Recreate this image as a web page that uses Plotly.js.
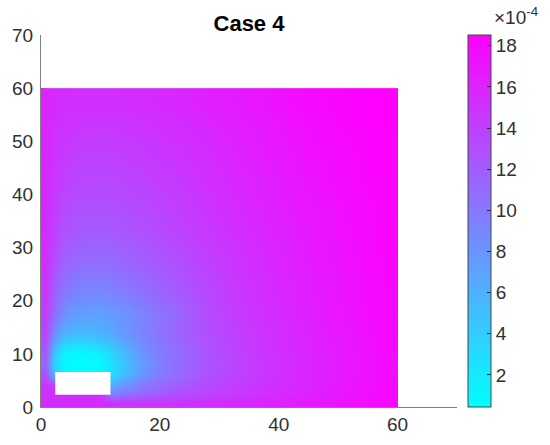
<!DOCTYPE html>
<html>
<head>
<meta charset="utf-8">
<script src="https://cdn.plot.ly/plotly-3.0.1.min.js"></script>
<style>
  html, body { margin: 0; padding: 0; background: #fff; }
  #plot { width: 550px; height: 445px; }
</style>
</head>
<body>
<div id="plot"></div>
<script>
// Case 4 field. Values are in units of 1e-4.
// cell edges (x and y), one more than the number of columns / rows
var xBins = [0, 1.5, 3, 5, 7, 9, 11, 13, 16, 20, 25, 30, 35, 40, 45, 50, 55, 60];
var yBins = [0, 1.5, 3, 5, 7, 9, 11, 13, 16, 20, 25, 30, 35, 40, 45, 50, 55, 60];

// rows go from bottom (y ~ 0.75) to top (y ~ 57.5)
var zE4 = [
  [15.5, 15.5, 15.5, 15.5, 15.5, 15.5, 15.3, 14.8, 14.8, 15.0, 15.3, 15.7, 16.1, 16.5, 17.0, 17.5, 18.0],
  [15.2, 15.0, 15.2, 15.2, 15.2, 15.2, 10.0, 11.0, 12.0, 13.0, 13.8, 14.5, 15.2, 15.8, 16.5, 17.2, 17.8],
  [14.8, 14.5, 12.0, 10.0, 10.0, 10.0, 6.5, 8.2, 10.3, 11.9, 13.2, 14.2, 15.0, 15.7, 16.4, 17.1, 17.8],
  [13.0, 5.5, 1.5, 1.0, 1.0, 1.5, 3.0, 5.5, 8.7, 10.9, 12.6, 13.8, 14.8, 15.6, 16.3, 17.0, 17.7],
  [11.5, 3.5, 0.8, 0.5, 0.5, 0.8, 2.5, 5.0, 8.2, 10.6, 12.4, 13.7, 14.7, 15.5, 16.3, 17.0, 17.7],
  [12.0, 4.5, 1.2, 0.8, 1.0, 1.6, 3.3, 5.6, 8.5, 10.7, 12.5, 13.8, 14.8, 15.6, 16.3, 17.0, 17.7],
  [12.8, 6.5, 3.5, 3.0, 3.2, 4.0, 5.0, 6.7, 9.0, 10.9, 12.6, 13.9, 14.9, 15.7, 16.4, 17.1, 17.8],
  [13.5, 8.8, 6.2, 5.6, 5.6, 6.0, 6.7, 8.0, 9.7, 11.3, 12.9, 14.0, 15.0, 15.8, 16.5, 17.2, 17.8],
  [14.2, 10.8, 8.3, 7.5, 7.2, 7.2, 7.5, 8.2, 9.5, 11.0, 13.0, 14.3, 15.2, 16.0, 16.7, 17.3, 17.9],
  [14.8, 12.0, 10.2, 9.4, 9.2, 9.2, 9.5, 10.0, 11.0, 12.2, 13.4, 14.5, 15.4, 16.1, 16.8, 17.4, 18.0],
  [15.2, 13.0, 11.6, 11.0, 10.8, 10.8, 11.0, 11.3, 12.0, 12.9, 13.9, 14.8, 15.6, 16.3, 16.9, 17.5, 18.1],
  [15.5, 13.8, 12.6, 12.2, 12.0, 12.0, 12.1, 12.4, 12.9, 13.6, 14.4, 15.2, 15.9, 16.5, 17.1, 17.6, 18.2],
  [15.6, 14.2, 13.3, 12.9, 12.8, 12.8, 12.9, 13.1, 13.5, 14.1, 14.8, 15.5, 16.1, 16.7, 17.2, 17.7, 18.2],
  [15.7, 14.6, 13.9, 13.6, 13.5, 13.5, 13.5, 13.7, 14.0, 14.5, 15.1, 15.7, 16.3, 16.9, 17.4, 17.9, 18.3],
  [15.8, 15.0, 14.4, 14.1, 14.0, 14.0, 14.0, 14.2, 14.5, 14.9, 15.4, 16.0, 16.6, 17.1, 17.6, 18.0, 18.4],
  [15.9, 15.3, 14.9, 14.7, 14.6, 14.6, 14.6, 14.7, 15.0, 15.3, 15.8, 16.3, 16.8, 17.3, 17.8, 18.2, 18.5],
  [16.0, 15.6, 15.3, 15.2, 15.2, 15.2, 15.2, 15.3, 15.5, 15.8, 16.2, 16.6, 17.1, 17.6, 18.0, 18.3, 18.5]
];

// the empty block in the lower left
var holeX = [2.4, 11.7];
var holeY = [2.3, 6.6];

var cRange = [0.44, 18.52];
var cbTicks = [2, 4, 6, 8, 10, 12, 14, 16, 18];
var xTicks = [0, 20, 40, 60];
var yTicks = [0, 10, 20, 30, 40, 50, 60, 70];

var fnt = 'Liberation Sans, Arial, Helvetica, sans-serif';
var txtCol = '#303030';

var trace = {
  type: 'heatmap',
  x: xBins,
  y: yBins,
  z: zE4,
  zsmooth: 'best',
  zmin: cRange[0],
  zmax: cRange[1],
  colorscale: [[0, 'rgb(0,255,255)'], [1, 'rgb(255,0,255)']],
  hoverinfo: 'skip',
  colorbar: {
    x: 1.026,
    xanchor: 'left',
    y: 0.5,
    yanchor: 'middle',
    len: 1,
    lenmode: 'fraction',
    thickness: 23,
    xpad: 0,
    ypad: 0,
    outlinewidth: 1,
    outlinecolor: '#3a4a4a',
    tickmode: 'array',
    tickvals: cbTicks,
    ticks: 'inside',
    ticklen: 4,
    tickcolor: '#262626',
    tickfont: { family: fnt, size: 19, color: txtCol }
  }
};

var axisCommon = {
  range: [0, 70],
  showgrid: false,
  zeroline: false,
  showline: true,
  linecolor: '#808080',
  linewidth: 1,
  ticks: 'inside',
  ticklen: 5,
  tickcolor: '#808080',
  layer: 'below traces',
  tickfont: { family: fnt, size: 19, color: txtCol },
  fixedrange: true
};

var layout = {
  width: 550,
  height: 445,
  margin: { l: 41, r: 93, t: 35, b: 38 },
  paper_bgcolor: '#fff',
  plot_bgcolor: '#fff',
  title: {
    text: '<b>Case 4</b>',
    font: { family: fnt, size: 22, color: '#000' },
    x: 0.5,
    xref: 'paper',
    xanchor: 'center',
    y: 0.948,
    yanchor: 'middle'
  },
  xaxis: Object.assign({}, axisCommon, { tickvals: xTicks }),
  yaxis: Object.assign({}, axisCommon, { tickvals: yTicks, ticklabelstandoff: 3 }),
  shapes: [{
    type: 'rect', xref: 'x', yref: 'y',
    x0: holeX[0], x1: holeX[1], y0: holeY[0], y1: holeY[1],
    fillcolor: '#fff', line: { width: 0 }, layer: 'above'
  }],
  annotations: [{
    xref: 'paper', yref: 'paper',
    x: 1.083, y: 1.05, xanchor: 'left', yanchor: 'middle',
    text: '×10<sup>-4</sup>', showarrow: false,
    font: { family: fnt, size: 19, color: txtCol }
  }]
};

Plotly.newPlot('plot', [trace], layout, { displayModeBar: false, staticPlot: true });
</script>
</body>
</html>
